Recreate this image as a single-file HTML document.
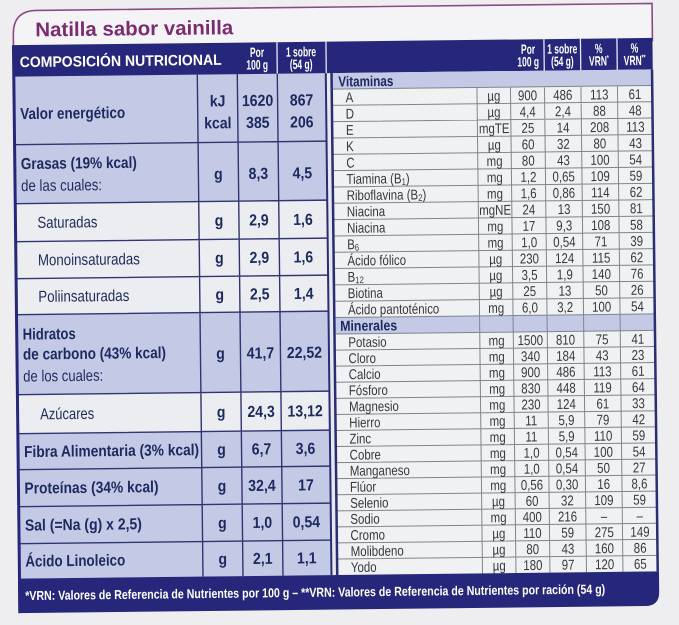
<!DOCTYPE html>
<html><head><meta charset="utf-8"><style>
html,body{margin:0;padding:0;background:#eeeef0;}
svg{display:block;}
.lb{font-family:"Liberation Sans",sans-serif;font-size:16px;font-weight:bold;fill:#1c2a60;}
.ln{font-family:"Liberation Sans",sans-serif;font-size:16px;font-weight:normal;fill:#1f2b5c;}
.lv text{font-family:"Liberation Sans",sans-serif;font-size:16px;font-weight:bold;fill:#1c2a60;text-anchor:middle;}
.hd text{font-family:"Liberation Sans",sans-serif;font-size:13.5px;font-weight:bold;fill:#fff;text-anchor:middle;}
.rp text{font-family:"Liberation Sans",sans-serif;font-size:14.2px;fill:#38383c;text-anchor:middle;}
.rp text.s{text-anchor:start;}
</style></head><body>
<svg xmlns="http://www.w3.org/2000/svg" width="679" height="625" viewBox="0 0 679 625">
<rect width="679" height="625" fill="#eeeef0"/>
<g transform="rotate(-0.65 339.5 312.5)">
<path d="M16.5 60 V31 Q16.5 7 40 7 H655.5 V45 H16.5 Z" fill="#f4f4f6"/>
<path d="M16.5 60 V31 Q16.5 7 40 7 H655.5 V45" fill="none" stroke="#8b4a86" stroke-width="1.6"/>
<text x="38.5" y="33" textLength="198" lengthAdjust="spacingAndGlyphs" style="font-family:'Liberation Sans',sans-serif;font-size:20px;font-weight:bold;fill:#7b2b70;">Natilla sabor vainilla</text>

<rect x="16.5" y="41.5" width="639" height="32" fill="#26277a"/>
<text x="22.5" y="63.5" textLength="202" lengthAdjust="spacingAndGlyphs" style="font-family:'Liberation Sans',sans-serif;font-size:15px;font-weight:bold;fill:#fff;">COMPOSICIÓN NUTRICIONAL</text>
<g stroke="#e6e8f4" stroke-width="1.3">
<line x1="280" y1="41.5" x2="280" y2="73"/>
<line x1="329" y1="41.5" x2="329" y2="73"/>
<line x1="547" y1="41.5" x2="547" y2="73"/>
<line x1="583.5" y1="41.5" x2="583.5" y2="73"/>
<line x1="620" y1="41.5" x2="620" y2="73"/>
</g>
<g class="hd" transform="scale(.63 1)">
<text x="412.7" y="56">Por</text><text x="412.7" y="68.5">100 g</text>
<text x="482.5" y="56">1 sobre</text><text x="482.5" y="68.5">(54 g)</text>
<text x="842.9" y="56">Por</text><text x="842.9" y="68.5">100 g</text>
<text x="897.2" y="56">1 sobre</text><text x="897.2" y="68.5">(54 g)</text>
<text x="955.2" y="56">%</text><text x="955.2" y="68.5">VRN<tspan font-size="8" dy="-5">*</tspan></text>
<text x="1011.9" y="56">%</text><text x="1011.9" y="68.5">VRN<tspan font-size="8" dy="-5">**</tspan></text>
</g>

<g>
<rect x="16.5" y="73" width="312" height="68" fill="#c4cae5"/>
<rect x="16.5" y="141" width="312" height="59" fill="#c4cae5"/>
<rect x="16.5" y="200" width="312" height="111" fill="#ecedf0"/>
<rect x="16.5" y="311" width="312" height="80" fill="#c4cae5"/>
<rect x="16.5" y="391" width="312" height="39" fill="#ecedf0"/>
<rect x="16.5" y="430" width="312" height="145" fill="#c4cae5"/>
</g>
<rect x="328.5" y="73" width="5" height="502" fill="#e7e8ed"/>
<path d="M200 73V575 M240 73V575 M280 73V575 M16.5 141H328.5 M16.5 200H328.5 M16.5 238H328.5 M16.5 275H328.5 M16.5 311H328.5 M16.5 391H328.5 M16.5 430H328.5 M16.5 466H328.5 M16.5 503H328.5 M16.5 540H328.5" stroke="#2f3570" stroke-width="1.4" fill="none"/>

<text class="lb" x="22.5" y="115.5" textLength="105" lengthAdjust="spacingAndGlyphs">Valor energético</text>
<text class="lb" x="22.5" y="165.5" textLength="116" lengthAdjust="spacingAndGlyphs">Grasas (19% kcal)</text>
<text class="ln" x="22.5" y="187.5" textLength="81" lengthAdjust="spacingAndGlyphs">de las cuales:</text>
<text class="ln" x="38.5" y="224.5" textLength="60" lengthAdjust="spacingAndGlyphs">Saturadas</text>
<text class="ln" x="38.5" y="262" textLength="102" lengthAdjust="spacingAndGlyphs">Monoinsaturadas</text>
<text class="ln" x="38.5" y="298.5" textLength="91" lengthAdjust="spacingAndGlyphs">Poliinsaturadas</text>
<text class="lb" x="22.5" y="336" textLength="53" lengthAdjust="spacingAndGlyphs">Hidratos</text>
<text class="lb" x="22.5" y="356" textLength="143" lengthAdjust="spacingAndGlyphs">de carbono (43% kcal)</text>
<text class="ln" x="22.5" y="378" textLength="80" lengthAdjust="spacingAndGlyphs">de los cuales:</text>
<text class="ln" x="39" y="416" textLength="54" lengthAdjust="spacingAndGlyphs">Azúcares</text>
<text class="lb" x="22.5" y="453.5" textLength="175" lengthAdjust="spacingAndGlyphs">Fibra Alimentaria (3% kcal)</text>
<text class="lb" x="22.5" y="490" textLength="134" lengthAdjust="spacingAndGlyphs">Proteínas (34% kcal)</text>
<text class="lb" x="22.5" y="527" textLength="117" lengthAdjust="spacingAndGlyphs">Sal (=Na (g) x 2,5)</text>
<text class="lb" x="22.5" y="563" textLength="100" lengthAdjust="spacingAndGlyphs">Ácido Linoleico</text>

<g class="lv" transform="scale(.88 1)">
<text x="250" y="105">kJ</text><text x="295.45" y="105">1620</text><text x="345.45" y="105">867</text>
<text x="250" y="127">kcal</text><text x="295.45" y="127">385</text><text x="345.45" y="127">206</text>
<text x="250" y="178">g</text><text x="295.45" y="178">8,3</text><text x="345.45" y="178">4,5</text>
<text x="250" y="224.5">g</text><text x="295.45" y="224.5">2,9</text><text x="345.45" y="224.5">1,6</text>
<text x="250" y="262">g</text><text x="295.45" y="262">2,9</text><text x="345.45" y="262">1,6</text>
<text x="250" y="298.5">g</text><text x="295.45" y="298.5">2,5</text><text x="345.45" y="298.5">1,4</text>
<text x="250" y="357.5">g</text><text x="295.45" y="357.5">41,7</text><text x="345.45" y="357.5">22,52</text>
<text x="250" y="416">g</text><text x="295.45" y="416">24,3</text><text x="345.45" y="416">13,12</text>
<text x="250" y="453.5">g</text><text x="295.45" y="453.5">6,7</text><text x="345.45" y="453.5">3,6</text>
<text x="250" y="490">g</text><text x="295.45" y="490">32,4</text><text x="345.45" y="490">17</text>
<text x="250" y="527">g</text><text x="295.45" y="527">1,0</text><text x="345.45" y="527">0,54</text>
<text x="250" y="563">g</text><text x="295.45" y="563">2,1</text><text x="345.45" y="563">1,1</text>
</g>

<rect x="334" y="73" width="321.5" height="502" fill="#f0f1f3"/>
<rect x="334" y="73" width="321.5" height="16" fill="#c4cae5"/>
<rect x="334" y="317.5" width="321.5" height="16.5" fill="#c4cae5"/>
<path d="M335 89H654 M335 105.3H654 M335 121.6H654 M335 138H654 M335 154.3H654 M335 170.6H654 M335 186.9H654 M335 203.2H654 M335 219.6H654 M335 235.9H654 M335 252.2H654 M335 268.5H654 M335 284.8H654 M335 301.2H654 M335 317.5H654 M335 334H654 M335 350.1H654 M335 366.1H654 M335 382.2H654 M335 398.3H654 M335 414.4H654 M335 430.4H654 M335 446.5H654 M335 462.6H654 M335 478.6H654 M335 494.7H654 M335 510.8H654 M335 526.8H654 M335 542.9H654 M335 559H654 M479.5 89V575 M513 89V575 M547 89V575 M583.5 89V575 M620 89V575" stroke="#80848f" stroke-width="1" fill="none"/>

<text x="341" y="86.5" textLength="55" lengthAdjust="spacingAndGlyphs" style="font-family:'Liberation Sans',sans-serif;font-size:14.5px;font-weight:bold;fill:#1c2a60;">Vitaminas</text>
<text x="340" y="330.9" textLength="57" lengthAdjust="spacingAndGlyphs" style="font-family:'Liberation Sans',sans-serif;font-size:14.5px;font-weight:bold;fill:#1c2a60;">Minerales</text>

<g class="rp" transform="scale(.81 1)">
<text class="s" x="429.6" y="102.4">A</text><text x="612.7" y="102.4">µg</text><text x="654.3" y="102.4">900</text><text x="697.8" y="102.4">486</text><text x="742.9" y="102.4">113</text><text x="787" y="102.4">61</text>
<text class="s" x="429.6" y="118.7">D</text><text x="612.7" y="118.7">µg</text><text x="654.3" y="118.7">4,4</text><text x="697.8" y="118.7">2,4</text><text x="742.9" y="118.7">88</text><text x="787" y="118.7">48</text>
<text class="s" x="429.6" y="135">E</text><text x="612.7" y="135">mgTE</text><text x="654.3" y="135">25</text><text x="697.8" y="135">14</text><text x="742.9" y="135">208</text><text x="787" y="135">113</text>
<text class="s" x="429.6" y="151.4">K</text><text x="612.7" y="151.4">µg</text><text x="654.3" y="151.4">60</text><text x="697.8" y="151.4">32</text><text x="742.9" y="151.4">80</text><text x="787" y="151.4">43</text>
<text class="s" x="429.6" y="167.7">C</text><text x="612.7" y="167.7">mg</text><text x="654.3" y="167.7">80</text><text x="697.8" y="167.7">43</text><text x="742.9" y="167.7">100</text><text x="787" y="167.7">54</text>
<text class="s" x="429.6" y="184">Tiamina (B<tspan font-size="9.5" dy="1.5">1</tspan><tspan dy="-1.5">)</tspan></text><text x="612.7" y="184">mg</text><text x="654.3" y="184">1,2</text><text x="697.8" y="184">0,65</text><text x="742.9" y="184">109</text><text x="787" y="184">59</text>
<text class="s" x="429.6" y="200.3">Riboflavina (B<tspan font-size="9.5" dy="1.5">2</tspan><tspan dy="-1.5">)</tspan></text><text x="612.7" y="200.3">mg</text><text x="654.3" y="200.3">1,6</text><text x="697.8" y="200.3">0,86</text><text x="742.9" y="200.3">114</text><text x="787" y="200.3">62</text>
<text class="s" x="429.6" y="216.6">Niacina</text><text x="612.7" y="216.6">mgNE</text><text x="654.3" y="216.6">24</text><text x="697.8" y="216.6">13</text><text x="742.9" y="216.6">150</text><text x="787" y="216.6">81</text>
<text class="s" x="429.6" y="233">Niacina</text><text x="612.7" y="233">mg</text><text x="654.3" y="233">17</text><text x="697.8" y="233">9,3</text><text x="742.9" y="233">108</text><text x="787" y="233">58</text>
<text class="s" x="429.6" y="249.3">B<tspan font-size="9.5" dy="1.5">6</tspan></text><text x="612.7" y="249.3">mg</text><text x="654.3" y="249.3">1,0</text><text x="697.8" y="249.3">0,54</text><text x="742.9" y="249.3">71</text><text x="787" y="249.3">39</text>
<text class="s" x="429.6" y="265.6">Ácido fólico</text><text x="612.7" y="265.6">µg</text><text x="654.3" y="265.6">230</text><text x="697.8" y="265.6">124</text><text x="742.9" y="265.6">115</text><text x="787" y="265.6">62</text>
<text class="s" x="429.6" y="281.9">B<tspan font-size="9.5" dy="1.5">12</tspan></text><text x="612.7" y="281.9">µg</text><text x="654.3" y="281.9">3,5</text><text x="697.8" y="281.9">1,9</text><text x="742.9" y="281.9">140</text><text x="787" y="281.9">76</text>
<text class="s" x="429.6" y="298.2">Biotina</text><text x="612.7" y="298.2">µg</text><text x="654.3" y="298.2">25</text><text x="697.8" y="298.2">13</text><text x="742.9" y="298.2">50</text><text x="787" y="298.2">26</text>
<text class="s" x="429.6" y="314.6">Ácido pantoténico</text><text x="612.7" y="314.6">mg</text><text x="654.3" y="314.6">6,0</text><text x="697.8" y="314.6">3,2</text><text x="742.9" y="314.6">100</text><text x="787" y="314.6">54</text>

<text class="s" x="429.6" y="347.2">Potasio</text><text x="612.7" y="347.2">mg</text><text x="654.3" y="347.2">1500</text><text x="697.8" y="347.2">810</text><text x="742.9" y="347.2">75</text><text x="787" y="347.2">41</text>
<text class="s" x="429.6" y="363.3">Cloro</text><text x="612.7" y="363.3">mg</text><text x="654.3" y="363.3">340</text><text x="697.8" y="363.3">184</text><text x="742.9" y="363.3">43</text><text x="787" y="363.3">23</text>
<text class="s" x="429.6" y="379.3">Calcio</text><text x="612.7" y="379.3">mg</text><text x="654.3" y="379.3">900</text><text x="697.8" y="379.3">486</text><text x="742.9" y="379.3">113</text><text x="787" y="379.3">61</text>
<text class="s" x="429.6" y="395.4">Fósforo</text><text x="612.7" y="395.4">mg</text><text x="654.3" y="395.4">830</text><text x="697.8" y="395.4">448</text><text x="742.9" y="395.4">119</text><text x="787" y="395.4">64</text>
<text class="s" x="429.6" y="411.5">Magnesio</text><text x="612.7" y="411.5">mg</text><text x="654.3" y="411.5">230</text><text x="697.8" y="411.5">124</text><text x="742.9" y="411.5">61</text><text x="787" y="411.5">33</text>
<text class="s" x="429.6" y="427.6">Hierro</text><text x="612.7" y="427.6">mg</text><text x="654.3" y="427.6">11</text><text x="697.8" y="427.6">5,9</text><text x="742.9" y="427.6">79</text><text x="787" y="427.6">42</text>
<text class="s" x="429.6" y="443.7">Zinc</text><text x="612.7" y="443.7">mg</text><text x="654.3" y="443.7">11</text><text x="697.8" y="443.7">5,9</text><text x="742.9" y="443.7">110</text><text x="787" y="443.7">59</text>
<text class="s" x="429.6" y="459.8">Cobre</text><text x="612.7" y="459.8">mg</text><text x="654.3" y="459.8">1,0</text><text x="697.8" y="459.8">0,54</text><text x="742.9" y="459.8">100</text><text x="787" y="459.8">54</text>
<text class="s" x="429.6" y="475.8">Manganeso</text><text x="612.7" y="475.8">mg</text><text x="654.3" y="475.8">1,0</text><text x="697.8" y="475.8">0,54</text><text x="742.9" y="475.8">50</text><text x="787" y="475.8">27</text>
<text class="s" x="429.6" y="491.9">Flúor</text><text x="612.7" y="491.9">mg</text><text x="654.3" y="491.9">0,56</text><text x="697.8" y="491.9">0,30</text><text x="742.9" y="491.9">16</text><text x="787" y="491.9">8,6</text>
<text class="s" x="429.6" y="508">Selenio</text><text x="612.7" y="508">µg</text><text x="654.3" y="508">60</text><text x="697.8" y="508">32</text><text x="742.9" y="508">109</text><text x="787" y="508">59</text>
<text class="s" x="429.6" y="524">Sodio</text><text x="612.7" y="524">mg</text><text x="654.3" y="524">400</text><text x="697.8" y="524">216</text><text x="742.9" y="524">–</text><text x="787" y="524">–</text>
<text class="s" x="429.6" y="540.1">Cromo</text><text x="612.7" y="540.1">µg</text><text x="654.3" y="540.1">110</text><text x="697.8" y="540.1">59</text><text x="742.9" y="540.1">275</text><text x="787" y="540.1">149</text>
<text class="s" x="429.6" y="556.2">Molibdeno</text><text x="612.7" y="556.2">µg</text><text x="654.3" y="556.2">80</text><text x="697.8" y="556.2">43</text><text x="742.9" y="556.2">160</text><text x="787" y="556.2">86</text>
<text class="s" x="429.6" y="572.2">Yodo</text><text x="612.7" y="572.2">µg</text><text x="654.3" y="572.2">180</text><text x="697.8" y="572.2">97</text><text x="742.9" y="572.2">120</text><text x="787" y="572.2">65</text>
</g>

<rect x="15" y="41.5" width="3" height="568" fill="#26277a"/>
<rect x="327.5" y="73" width="2" height="502" fill="#2a2d72"/>
<rect x="333" y="73" width="2.5" height="502" fill="#2a2d72"/>
<rect x="653.5" y="73" width="2.5" height="502" fill="#2a2d72"/>

<path d="M15 575 H656 V595.5 Q656 609.5 642 609.5 H15 Z" fill="#26277a"/>
<text x="22" y="596.5" textLength="580" lengthAdjust="spacingAndGlyphs" style="font-family:'Liberation Sans',sans-serif;font-size:13px;font-weight:bold;fill:#fff;">*VRN: Valores de Referencia de Nutrientes por 100 g – **VRN: Valores de Referencia de Nutrientes por ración (54 g)</text>
</g>
</svg>
</body></html>
